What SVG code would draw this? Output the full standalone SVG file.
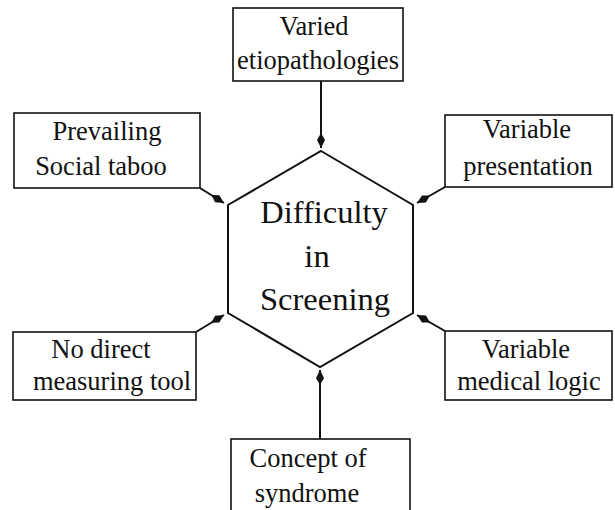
<svg xmlns="http://www.w3.org/2000/svg" width="615" height="510" viewBox="0 0 615 510">
<style>
.box{fill:#fff;stroke:#111;stroke-width:1.6}
.hex{fill:#fff;stroke:#111;stroke-width:2}
.t{font-family:'Liberation Serif','Times New Roman',serif;font-size:26.5px;fill:#111;text-anchor:middle}
.ht{font-family:'Liberation Serif','Times New Roman',serif;font-size:32.5px;fill:#111;text-anchor:middle}
.c{stroke:#111;stroke-width:2;fill:none;marker-end:url(#ah)}
</style>
<defs>
<marker id="ah" markerUnits="userSpaceOnUse" viewBox="0 0 15 9" refX="15" refY="4.5" markerWidth="15" markerHeight="9" orient="auto">
<path d="M15,4.5 L7,0.5 L0,4.5 L7,8.5 Z" fill="#111"/>
</marker>
</defs>
<rect width="615" height="510" fill="#fff"/>
<g id="center">
<polygon class="hex" points="321,151 413,205 413,313 320,367 228,313 228,205"/>
<text class="ht" x="324" y="223">Difficulty</text>
<text class="ht" x="317" y="267">in</text>
<text class="ht" x="325" y="310">Screening</text>
</g>
<g id="n-top">
<rect class="box" x="233" y="8" width="170" height="73"/>
<text class="t" x="314" y="35">Varied</text>
<text class="t" x="318" y="69">etiopathologies</text>
</g>
<g id="n-ul">
<rect class="box" x="14" y="113" width="186" height="75"/>
<text class="t" x="107" y="140">Prevailing</text>
<text class="t" x="101" y="175">Social taboo</text>
</g>
<g id="n-ur">
<rect class="box" x="445" y="115" width="167" height="72"/>
<text class="t" x="527" y="138">Variable</text>
<text class="t" x="528" y="175">presentation</text>
</g>
<g id="n-ll">
<rect class="box" x="13" y="332" width="183" height="68"/>
<text class="t" x="101" y="358">No direct</text>
<text class="t" x="112" y="390">measuring tool</text>
</g>
<g id="n-lr">
<rect class="box" x="445" y="331" width="167" height="69"/>
<text class="t" x="526" y="358">Variable</text>
<text class="t" x="529" y="390">medical logic</text>
</g>
<g id="n-bottom">
<rect class="box" x="231" y="439" width="179" height="80"/>
<text class="t" x="308" y="467">Concept of</text>
<text class="t" x="307" y="502">syndrome</text>
</g>
<g id="connectors">
<line class="c" x1="321" y1="81" x2="321" y2="148"/>
<line class="c" x1="200" y1="188" x2="224" y2="203"/>
<line class="c" x1="445" y1="187" x2="417" y2="203"/>
<line class="c" x1="196" y1="332" x2="224" y2="315"/>
<line class="c" x1="445" y1="331" x2="417" y2="315"/>
<line class="c" x1="320" y1="439" x2="320" y2="370"/>
</g>
</svg>
